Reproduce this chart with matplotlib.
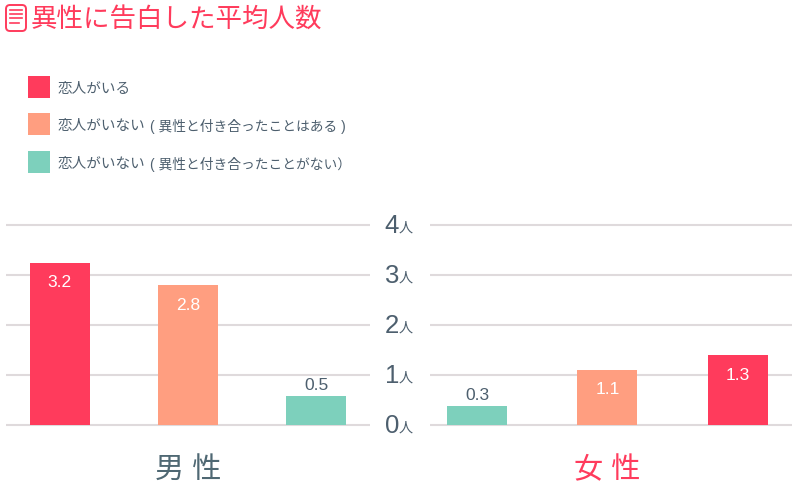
import matplotlib
matplotlib.use("Agg")
import matplotlib.pyplot as plt
from matplotlib.patches import FancyBboxPatch, Rectangle
from matplotlib.transforms import IdentityTransform

plt.rcParams['font.family'] = ['Liberation Sans', 'Noto Sans CJK JP', 'DejaVu Sans']

titulo = "異性に告白した平均人数"
leyenda = ["恋人がいる", "恋人がいない", "恋人がいない"]
leyenda_extra = ["", "( 異性と付き合ったことはある )", "( 異性と付き合ったことがない）"]
y_ticks = [0, 1, 2, 3, 4]

# Alturas como se ven en la imagen y etiquetas como están escritas
hombres = [3.24, 2.8, 0.58]
hombres_txt = ["3.2", "2.8", "0.5"]
mujeres = [0.38, 1.1, 1.4]
mujeres_txt = ["0.3", "1.1", "1.3"]

ROJO = "#ff3b5c"
SALMON = "#ff9e80"
VERDE = "#7dd0bc"
GRIS = "#4d5f6e"
LINEA = "#dfdadc"
colores_h = [ROJO, SALMON, VERDE]
colores_m = [VERDE, SALMON, ROJO]

W, H = 800, 500
fig = plt.figure(figsize=(8, 5), dpi=100)


# Pasar de píxeles a coordenadas de figura
def fx(x):
    return x / W


def fy(y):
    return 1 - y / H


def crear_ejes(x0, x1, lim):
    ax = fig.add_axes([fx(x0), fy(425), (x1 - x0) / W, 200 / H])
    ax.set_xlim(*lim)
    ax.set_ylim(0, 4)
    ax.patch.set_alpha(0)
    for s in ax.spines.values():
        s.set_visible(False)
    ax.set_xticks([])
    ax.set_yticks(y_ticks)
    ax.set_yticklabels([])
    ax.tick_params(length=0)
    ax.grid(True, axis="y", color=LINEA, lw=1.5, clip_on=False, solid_capstyle="butt")
    ax.set_axisbelow(True)
    return ax


def barras(ax, valores, textos, colores, ancho):
    for i, v in enumerate(valores):
        ax.bar(i, v, width=ancho, color=colores[i], zorder=3)
        if v > 1:
            ax.text(i, v - 0.4, textos[i], ha="center", va="center", color="white",
                    fontsize=12.5, zorder=4)
        else:
            ax.text(i, v + 0.05, textos[i], ha="center", va="bottom", color=GRIS,
                    fontsize=12.5, zorder=4)


ax1 = crear_ejes(6, 370, (-0.42, 2.42))
barras(ax1, hombres, hombres_txt, colores_h, 60 / 128)
ax2 = crear_ejes(430, 792, (-0.36, 2.414))
barras(ax2, mujeres, mujeres_txt, colores_m, 60 / 130.5)

# Etiquetas del eje central
for t in y_ticks:
    y = 425 - t * 50
    fig.text(fx(399), fy(y + 1), str(t), ha="right", va="center", fontsize=18.5, color=GRIS)
    fig.text(fx(398.5), fy(y + 3), "人", ha="left", va="center", fontsize=10.2, color=GRIS)

# Categorías
fig.text(fx(188.5), fy(470), "男 性", ha="center", va="center", fontsize=21, color="#4f6873")
fig.text(fx(607.5), fy(470), "女 性", ha="center", va="center", fontsize=21, color=ROJO)

# Título e icono
fig.text(fx(31), fy(21), titulo, ha="left", va="center", fontsize=19.1, color=ROJO)
fig.add_artist(FancyBboxPatch((6, H - 31), 20, 26, transform=IdentityTransform(),
                              boxstyle="round,pad=0,rounding_size=4",
                              fc="none", ec=ROJO, lw=1.4))
for yy, x1 in zip([10, 14, 18, 23], [22, 22, 22, 19]):
    fig.add_artist(plt.Line2D([fx(10), fx(x1)], [fy(yy), fy(yy)], color=ROJO, lw=1.2))

# Leyenda
for y, c, t, e in zip([76, 113, 151], [ROJO, SALMON, VERDE], leyenda, leyenda_extra):
    fig.add_artist(Rectangle((fx(28), fy(y + 22)), 22 / W, 22 / H, transform=fig.transFigure,
                             fc=c, ec="none"))
    fig.text(fx(58), fy(y + 13), t, ha="left", va="center", fontsize=10.5, color=GRIS)
    if e:
        fig.text(fx(150), fy(y + 13), e, ha="left", va="center", fontsize=9.9, color=GRIS)

fig.savefig("out.png", dpi=100)
